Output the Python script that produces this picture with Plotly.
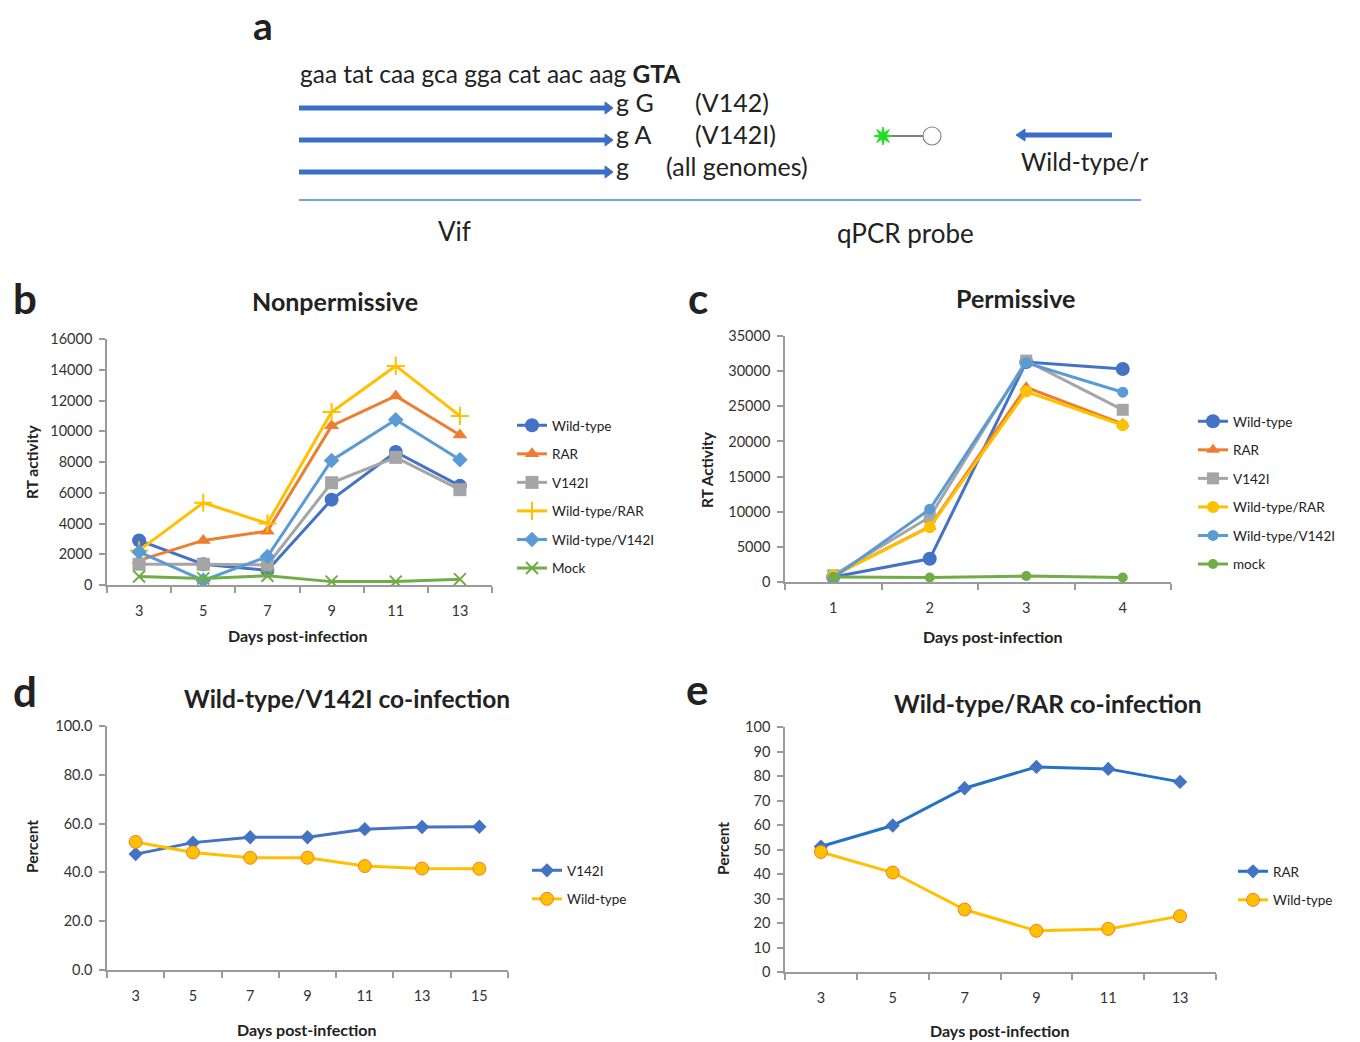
import math
import plotly.graph_objects as go

# the page's default body margin is removed (post_script below), so the
# figure fills the 1360x1042 window exactly
OFF = 0
W, H = 1360 - OFF, 1042 - OFF
FONT = "Lato"

# ---------------- data ----------------
days_b = ["3", "5", "7", "9", "11", "13"]
b_wild_type = [2900, 1350, 950, 5550, 8650, 6450]
b_rar = [1600, 2900, 3500, 10350, 12300, 9750]
b_v142i = [1350, 1350, 1300, 6650, 8300, 6200]
b_wt_rar = [2250, 5350, 4000, 11250, 14250, 11000]
b_wt_v142i = [2150, 300, 1850, 8100, 10750, 8150]
b_mock = [550, 430, 600, 220, 220, 380]

days_c = ["1", "2", "3", "4"]
c_wild_type = [700, 3300, 31300, 30300]
c_rar = [900, 7900, 27700, 22500]
c_v142i = [950, 9250, 31500, 24500]
c_wt_rar = [900, 7800, 27100, 22300]
c_wt_v142i = [600, 10350, 31200, 27000]
c_mock = [700, 650, 850, 650]

days_d = ["3", "5", "7", "9", "11", "13", "15"]
d_v142i = [47.5, 52.2, 54.4, 54.4, 57.7, 58.6, 58.7]
d_wild_type = [52.5, 48.2, 46.0, 46.0, 42.6, 41.6, 41.5]

days_e = ["3", "5", "7", "9", "11", "13"]
e_rar = [51.2, 59.8, 75.0, 83.7, 82.9, 77.6]
e_wild_type = [49.0, 40.6, 25.5, 16.8, 17.6, 22.8]

# ---------------- styling ----------------
BLUE = "#4472C4"
ORANGE = "#ED7D31"
GRAY = "#A5A5A5"
YELLOW = "#FFC000"
LBLUE = "#5B9BD5"
GREEN = "#70AD47"
EBLUE = "#2273C3"
TXT = "#222222"
TICK = "#333333"
AXC = "#9a9a9a"


def px(x):
    return (x - OFF) / W


def py(y):
    return 1 - (y - OFF) / H


fig = go.Figure()


def add(x, y, name, color, symbol, size, xa, ya, leg, grp, mline=None, lw=3):
    marker = dict(symbol=symbol, size=size, color=color)
    if mline:
        marker["line"] = mline
    fig.add_trace(go.Scatter(
        x=x, y=y, name=name, mode="lines+markers",
        line=dict(color=color, width=lw), marker=marker,
        xaxis=xa, yaxis=ya, legend=leg, legendgroup=grp,
    ))


# panel b
add(days_b, b_wild_type, "Wild-type", BLUE, "circle", 14, "x", "y", "legend", "b1")
add(days_b, b_rar, "RAR", ORANGE, "triangle-up", 13, "x", "y", "legend", "b2")
add(days_b, b_v142i, "V142I", GRAY, "square", 13, "x", "y", "legend", "b3")
add(days_b, b_wt_rar, "Wild-type/RAR", YELLOW, "cross-thin", 13, "x", "y", "legend", "b4",
    mline=dict(color=YELLOW, width=2))
add(days_b, b_wt_v142i, "Wild-type/V142I", LBLUE, "diamond", 12, "x", "y", "legend", "b5")
add(days_b, b_mock, "Mock", GREEN, "x-thin", 12, "x", "y", "legend", "b6",
    mline=dict(color=GREEN, width=2))

# panel c
add(days_c, c_wild_type, "Wild-type", BLUE, "circle", 14, "x2", "y2", "legend2", "c1")
add(days_c, c_rar, "RAR", ORANGE, "triangle-up", 12, "x2", "y2", "legend2", "c2")
add(days_c, c_v142i, "V142I", GRAY, "square", 12, "x2", "y2", "legend2", "c3")
add(days_c, c_wt_rar, "Wild-type/RAR", YELLOW, "circle", 12, "x2", "y2", "legend2", "c4")
add(days_c, c_wt_v142i, "Wild-type/V142I", LBLUE, "circle", 11, "x2", "y2", "legend2", "c5")
add(days_c, c_mock, "mock", GREEN, "circle", 10, "x2", "y2", "legend2", "c6")

# panel d
add(days_d, d_v142i, "V142I", BLUE, "diamond", 11, "x3", "y3", "legend3", "d1")
add(days_d, d_wild_type, "Wild-type", YELLOW, "circle", 13, "x3", "y3", "legend3", "d2",
    mline=dict(color=ORANGE, width=1))

# panel e
fig.add_trace(go.Scatter(
    x=days_e, y=e_rar, name="RAR", mode="lines+markers",
    line=dict(color=EBLUE, width=3),
    marker=dict(symbol="diamond", size=11, color=BLUE),
    xaxis="x4", yaxis="y4", legend="legend4", legendgroup="e1"))
add(days_e, e_wild_type, "Wild-type", YELLOW, "circle", 13, "x4", "y4", "legend4", "e2",
    mline=dict(color=ORANGE, width=1))

# ---------------- axes ----------------
tickfont = dict(family=FONT, size=14.5, color=TICK)


def xaxis(x0, x1, anchor, n):
    return dict(domain=[px(x0), px(x1)], anchor=anchor, type="category",
                range=[-0.5, n - 0.5], showline=True, linecolor=AXC, linewidth=1.5,
                ticks="outside", tickson="boundaries", ticklen=6, tickcolor=AXC,
                tickwidth=1.5, showgrid=False, zeroline=False, tickfont=tickfont,
                ticklabelstandoff=12, fixedrange=True, automargin=False)


def yaxis(y0, y1, anchor, rng, dtick, fmt="d"):
    return dict(domain=[py(y1), py(y0)], anchor=anchor, range=rng, dtick=dtick,
                showline=True, linecolor=AXC, linewidth=1.5, ticks="outside", ticklen=6,
                tickcolor=AXC, tickwidth=1.5, showgrid=False, zeroline=False,
                tickfont=tickfont, ticklabelstandoff=4, fixedrange=True,
                tickformat=fmt, automargin=False)


legfont = dict(family=FONT, size=13.5, color=TXT)


def legend(x, y):
    return dict(x=px(x), y=py(y), xanchor="left", yanchor="top", font=legfont,
                bgcolor="rgba(0,0,0,0)", tracegroupgap=8, itemwidth=30)


fig.update_layout(
    width=W, height=H, margin=dict(l=0, r=0, t=0, b=0, pad=0, autoexpand=False),
    paper_bgcolor="white", plot_bgcolor="white",
    font=dict(family=FONT, color=TXT),
    xaxis=xaxis(107, 492, "y", len(days_b)),
    yaxis=yaxis(339, 585, "x", [0, 16000], 2000),
    xaxis2=xaxis(785, 1171, "y2", len(days_c)),
    yaxis2=yaxis(336, 582, "x2", [0, 35000], 5000),
    xaxis3=xaxis(107, 508, "y3", len(days_d)),
    yaxis3=yaxis(726, 970, "x3", [0, 100], 20, ".1f"),
    xaxis4=xaxis(785, 1216, "y4", len(days_e)),
    yaxis4=yaxis(727, 972, "x4", [0, 100], 10),
    legend=legend(512, 410),
    legend2=legend(1193, 406),
    legend3=legend(527, 855),
    legend4=legend(1233, 856),
    showlegend=True,
)

ann = []


def text(x, y, t, size, bold=False, anchor="center", angle=0, color=TXT, vanchor="middle"):
    ann.append(dict(x=px(x), y=py(y), xref="paper", yref="paper",
                    text=f"<b>{t}</b>" if bold else t, showarrow=False,
                    xanchor=anchor, yanchor=vanchor, textangle=angle,
                    font=dict(family=FONT, size=size, color=color)))


# panel letters
text(263, 0, "a", 39, True, vanchor="top")
text(25, 298, "b", 42, True)
text(698, 298, "c", 42, True)
text(25, 691, "d", 42, True)
text(697, 689, "e", 42, True)

# panel titles
text(335, 301, "Nonpermissive", 25, True)
text(1015, 298, "Permissive", 25, True)
text(347, 698, "Wild-type/V142I co-infection", 24.5, True)
text(1048, 703, "Wild-type/RAR co-infection", 24.5, True)

# axis titles
text(32, 462, "RT activity", 15.5, True, angle=-90)
text(298, 635, "Days post-infection", 16, True)
text(707, 470, "RT Activity", 15.5, True, angle=-90)
text(993, 636, "Days post-infection", 16, True)
text(32, 847, "Percent", 15.5, True, angle=-90)
text(307, 1029, "Days post-infection", 16, True)
text(723, 849, "Percent", 15.5, True, angle=-90)
text(1000, 1030, "Days post-infection", 16, True)

# panel a texts
text(298, 73, "gaa tat caa gca gga cat aac aag <b>GTA</b>", 24.5, anchor="left")
text(614, 102, "g G", 25, anchor="left")
text(693, 102, "(V142)", 25, anchor="left")
text(614, 134, "g A", 25, anchor="left")
text(693, 134, "(V142I)", 25, anchor="left")
text(614, 166, "g", 25, anchor="left")
text(664, 166, "(all genomes)", 25, anchor="left")
text(1019, 162, "Wild-type/r", 24.5, anchor="left")
text(455, 231, "Vif", 26)
text(905, 233, "qPCR probe", 26)

shapes = []


def line(x0, y0, x1, y1, color, width):
    shapes.append(dict(type="line", xref="paper", yref="paper",
                       x0=px(x0), y0=py(y0), x1=px(x1), y1=py(y1),
                       line=dict(color=color, width=width)))


def path(pts, color):
    d = "M " + " L ".join(f"{px(a)},{py(b)}" for a, b in pts) + " Z"
    shapes.append(dict(type="path", xref="paper", yref="paper", path=d,
                       fillcolor=color, line=dict(color=color, width=1)))


ARROW = "#3B6CC8"
for yy in (108, 140, 172):
    line(299, yy, 606, yy, ARROW, 5)
    path([(605, yy - 6), (613, yy), (605, yy + 6)], ARROW)

# reverse primer arrow
line(1112, 135, 1024, 135, ARROW, 5)
path([(1025, 129), (1016, 135), (1025, 141)], ARROW)

# baseline
line(299, 200, 1141, 200, "#4a7fd0", 1.5)

# probe
line(888, 136, 924, 136, "#555555", 1.5)
shapes.append(dict(type="circle", xref="paper", yref="paper",
                   x0=px(923), x1=px(941), y0=py(127), y1=py(145),
                   line=dict(color="#888888", width=1.2), fillcolor="white"))
star = []
for i in range(16):
    r = 9 if i % 2 == 0 else 3.5
    a = math.pi * i / 8
    star.append((883 + r * math.cos(a), 136 + r * math.sin(a)))
path(star, "#22DD22")

fig.update_layout(annotations=ann, shapes=shapes)
fig.write_html(
    "out.html",
    config={"displayModeBar": False},
    post_script="document.body.style.margin='0px';"
                "document.documentElement.style.overflow='hidden';",
)
